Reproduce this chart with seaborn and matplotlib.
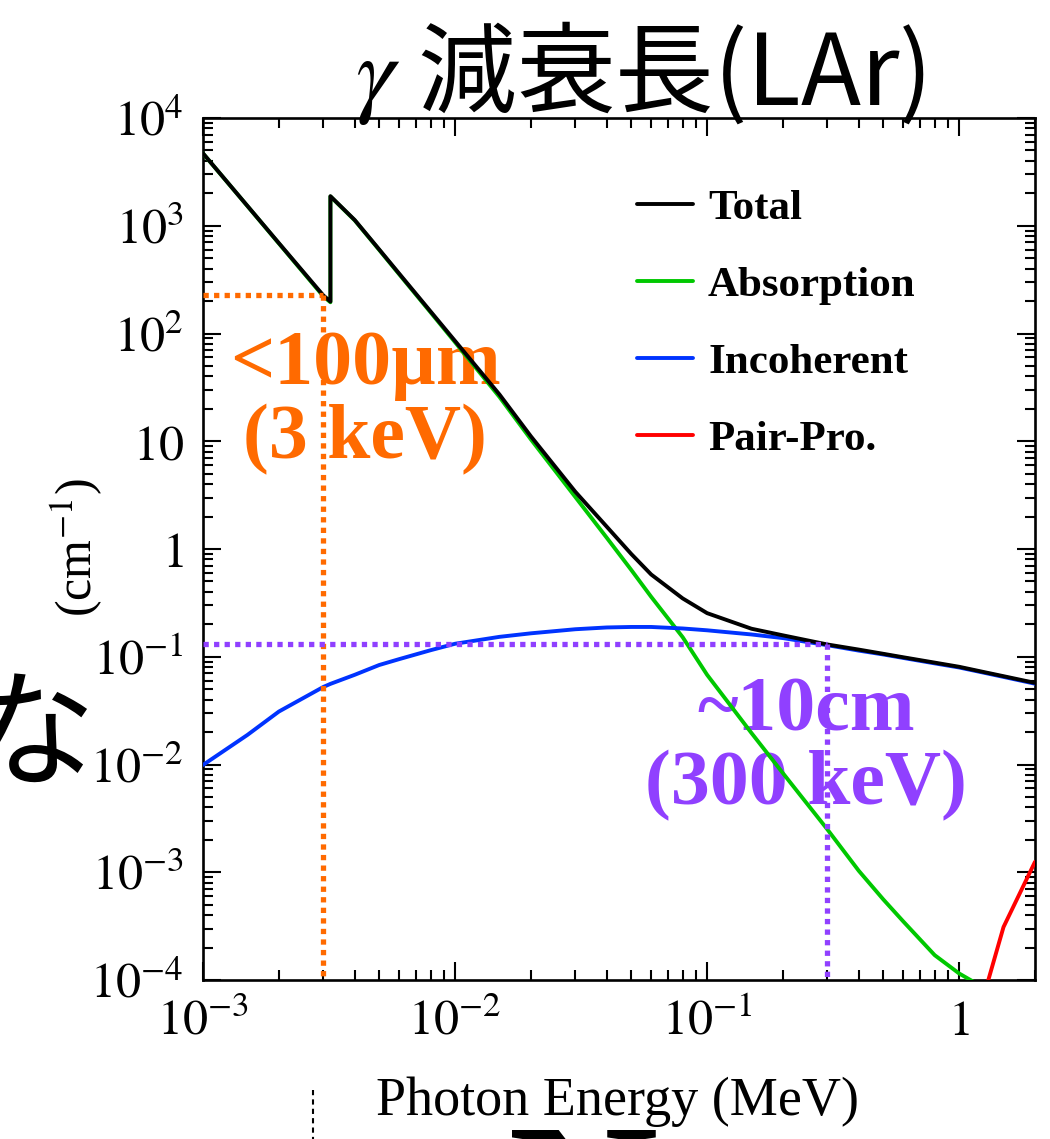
import numpy as np
import pandas as pd
import matplotlib
matplotlib.use("Agg")
import matplotlib.pyplot as plt
from matplotlib.lines import Line2D
from matplotlib.ticker import FixedLocator, FixedFormatter, LogLocator, NullFormatter
import seaborn as sns

# Photon energy grid (MeV); the K edge of argon appears twice
energy = [1e-3, 1.5e-3, 2e-3, 3e-3, 3.2029e-3, 3.2029e-3, 4e-3, 5e-3, 6e-3, 8e-3,
          1e-2, 1.5e-2, 2e-2, 3e-2, 4e-2, 5e-2, 6e-2, 8e-2, 0.1, 0.15, 0.2, 0.3,
          0.4, 0.5, 0.6, 0.8, 1.0, 1.25, 1.5, 2.0]

# Linear attenuation coefficients in liquid argon (cm^-1)
total = [4700, 1530, 690, 226, 198, 1880, 1130, 603, 360, 160,
         85.3, 27.2, 11.1, 3.4, 1.61, 0.90, 0.58, 0.348, 0.254, 0.182, 0.158, 0.130,
         0.1165, 0.1065, 0.0989, 0.0882, 0.0807, 0.0722, 0.0660, 0.0572]
absorption = [4690, 1525, 685, 222, 195, 1870, 1122, 597, 355, 157,
              83.0, 25.8, 10.4, 3.04, 1.27, 0.64, 0.36, 0.152, 0.068, 0.0196, 0.0083, 0.0025,
              0.00103, 0.00056, 0.00035, 0.00017, 0.000115, 0.000085, 0.000065, 0.000046]
incoherent = [0.0099, 0.0188, 0.031, 0.0524, 0.056, 0.056, 0.068, 0.0838, 0.095, 0.115,
              0.132, 0.153, 0.165, 0.180, 0.187, 0.189, 0.189, 0.183, 0.176, 0.161, 0.149, 0.128,
              0.114, 0.105, 0.0975, 0.0868, 0.0795, 0.0712, 0.0650, 0.0562]
pair_energy = [1.25, 1.5, 2.0]
pair = [7e-5, 3.1e-4, 1.25e-3]

series_labels = ["Total", "Absorption", "Incoherent", "Pair-Pro."]
series_colors = ["#000000", "#00c800", "#0033ff", "#ff0000"]

x_ticks = [1e-3, 1e-2, 1e-1, 1]
x_tick_labels = [r"$10^{-3}$", r"$10^{-2}$", r"$10^{-1}$", r"$1$"]
y_ticks = [1e-4, 1e-3, 1e-2, 1e-1, 1, 10, 1e2, 1e3, 1e4]
y_tick_labels = [r"$10^{-4}$", r"$10^{-3}$", r"$10^{-2}$", r"$10^{-1}$", r"$1$",
                 r"$10$", r"$10^{2}$", r"$10^{3}$", r"$10^{4}$"]

# Marked energies: 3 keV and 300 keV
mark_low = 3e-3
mark_high = 0.3

sns.set_theme(style="ticks")
plt.rcParams["font.family"] = ["Liberation Serif", "DejaVu Serif"]
plt.rcParams["mathtext.fontset"] = "stix"
plt.rcParams["text.color"] = "black"
plt.rcParams["axes.labelcolor"] = "black"

W, H = 1050, 1139
fig = plt.figure(figsize=(W / 100, H / 100), dpi=100)
ax = fig.add_axes([203 / W, 1 - 980 / H, 832 / W, 862 / H])
ax.set_xscale("log")
ax.set_yscale("log")

lw = 2.8
common = dict(ax=ax, estimator=None, sort=False, legend=False, linewidth=lw)
sns.lineplot(x=energy, y=absorption, color=series_colors[1], zorder=3, **common)
sns.lineplot(x=energy, y=incoherent, color=series_colors[2], zorder=4, **common)
sns.lineplot(x=pair_energy, y=pair, color=series_colors[3], zorder=4, **common)
sns.lineplot(x=energy, y=total, color=series_colors[0], zorder=5, **common)

ax.set_xlim(1e-3, 2.0)
ax.set_ylim(1e-4, 1e4)

# Guide lines to the total attenuation at the two marked energies
tot = dict(zip(energy, total))
dot = dict(linestyle=(0, (1, 1)), linewidth=3.8, dash_capstyle="butt", zorder=6)
for e, col in [(mark_low, "#ff6a00"), (mark_high, "#9040ff")]:
    v = tot[e]
    ax.plot([1e-3, e], [v, v], color=col, **dot)
    ax.plot([e, e], [v, 1e-4], color=col, **dot)

ax.text(0.195, 0.67, "<100\u00b5m\n(3 keV)", transform=ax.transAxes,
        ha="center", va="center", ma="center", color="#ff6a00",
        fontsize=56, fontweight="bold", linespacing=1.05, zorder=1)
ax.text(0.725, 0.268, "~10cm\n(300 keV)", transform=ax.transAxes,
        ha="center", va="center", ma="center", color="#9040ff",
        fontsize=56, fontweight="bold", linespacing=1.05, zorder=1)

# Axes styling
ax.xaxis.set_major_locator(FixedLocator(x_ticks))
ax.xaxis.set_major_formatter(FixedFormatter(x_tick_labels))
ax.yaxis.set_major_locator(FixedLocator(y_ticks))
ax.yaxis.set_major_formatter(FixedFormatter(y_tick_labels))
for axis in (ax.xaxis, ax.yaxis):
    axis.set_minor_locator(LogLocator(base=10, subs=np.arange(2, 10), numticks=20))
    axis.set_minor_formatter(NullFormatter())
ax.tick_params(which="both", direction="in", top=True, right=True,
               width=1.5, color="black", labelcolor="black")
ax.tick_params(which="major", length=13, labelsize=36)
ax.tick_params(which="minor", length=7)
ax.tick_params(axis="x", which="major", pad=14)
ax.tick_params(axis="y", which="major", pad=14)
for sp in ax.spines.values():
    sp.set_linewidth(1.9)
    sp.set_color("black")

handles = [Line2D([], [], color=c, linewidth=lw) for c in series_colors]
leg = ax.legend(handles, series_labels, loc="upper left", bbox_to_anchor=(0.5216, 0.918),
                frameon=False, handlelength=1.3, handletextpad=0.35, labelspacing=0.88,
                borderpad=0, borderaxespad=0,
                prop=dict(family="Liberation Serif", weight="bold", size=31))
for t in leg.get_texts():
    t.set_color("black")

fig.text(617 / W, 1 - 1115 / H, "Photon Energy (MeV)", ha="center", va="baseline",
         fontsize=39, color="black")
fig.text(77 / W, 1 - 548 / H, r"(cm$^{-1}$)", ha="center", va="center",
         rotation=90, fontsize=36, color="black")
fig.text(640 / W, 1 - 74 / H, r"$\gamma$ 減衰長(LAr)", ha="center", va="center",
         fontsize=71, color="black", family=["Noto Sans CJK JP", "DejaVu Sans"])

# Surrounding slide text and marker
fig.text(95 / W, 1 - 740 / H, "な", ha="right", va="center", fontsize=92,
         color="black", family=["Noto Sans CJK JP", "DejaVu Sans"])
fig.text(508 / W, 1 - 1266 / H, "N", ha="left", va="baseline", fontsize=150,
         fontweight="bold", color="black")
fig.add_artist(Line2D([313 / W, 313 / W], [1 - 1090 / H, 0], transform=fig.transFigure,
                      color="black", linewidth=1.5, linestyle=(0, (2.5, 2))))

fig.savefig("out.png", dpi=100)
